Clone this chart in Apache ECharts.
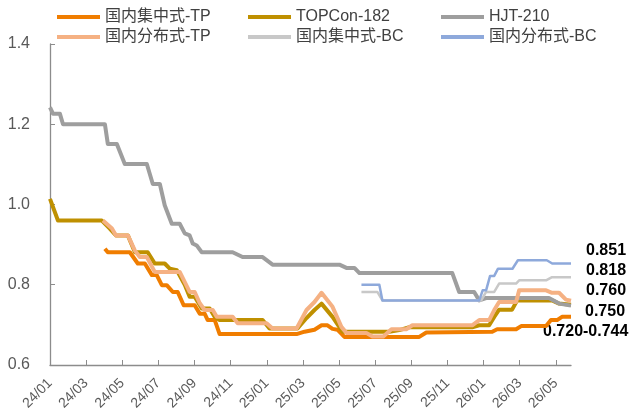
<!DOCTYPE html>
<html>
<head>
<meta charset="utf-8">
<script src="https://cdn.jsdelivr.net/npm/echarts@6/dist/echarts.min.js"></script>
<style>
html,body{margin:0;padding:0;background:#fff;}
#chart{width:633px;height:416px;}
</style>
</head>
<body>
<div id="chart"></div>
<script>
// x = months since 2024/01, y = price
var xTickLabels = ['24/01','24/03','24/05','24/07','24/09','24/11','25/01','25/03','25/05','25/07','25/09','25/11','26/01','26/03','26/05'];
var seriesNames = ['国内集中式-TP','TOPCon-182','HJT-210','国内分布式-TP','国内集中式-BC','国内分布式-BC'];

var tpCentral = [[3.04,0.890],[3.20,0.881],[4.42,0.881],[4.86,0.853],[5.25,0.853],[5.64,0.824],[5.91,0.824],[6.19,0.799],[6.46,0.799],[6.80,0.782],[7.07,0.782],[7.40,0.749],[8.01,0.749],[8.29,0.728],[8.56,0.728],[8.73,0.712],[9.12,0.712],[9.39,0.677],[13.65,0.677],[14.09,0.683],[14.64,0.688],[15.03,0.699],[15.36,0.699],[15.64,0.690],[15.91,0.688],[16.30,0.670],[20.44,0.670],[20.83,0.681],[24.48,0.683],[24.75,0.689],[25.80,0.689],[26.08,0.697],[27.46,0.697],[27.73,0.712],[28.07,0.712],[28.34,0.720],[28.84,0.720]];

var topcon = [[0,1.014],[0.44,0.960],[2.87,0.960],[3.31,0.940],[3.65,0.923],[4.31,0.923],[4.70,0.881],[5.41,0.881],[5.80,0.853],[6.35,0.853],[6.63,0.840],[7.02,0.836],[7.46,0.800],[7.73,0.770],[8.01,0.770],[8.40,0.741],[8.84,0.741],[9.12,0.720],[9.39,0.712],[11.77,0.712],[12.15,0.691],[13.70,0.691],[14.20,0.717],[14.64,0.737],[15.03,0.753],[15.64,0.720],[16.19,0.683],[18.78,0.683],[19.34,0.687],[19.89,0.694],[23.37,0.694],[23.76,0.699],[24.31,0.699],[24.59,0.720],[24.86,0.738],[25.58,0.738],[25.86,0.761],[27.79,0.761],[28.18,0.753],[28.84,0.750]];

var hjt = [[0,1.242],[0.17,1.226],[0.55,1.226],[0.72,1.200],[3.04,1.200],[3.20,1.151],[3.70,1.151],[4.14,1.101],[5.36,1.101],[5.69,1.051],[6.08,1.051],[6.35,0.998],[6.74,0.952],[7.18,0.952],[7.46,0.928],[7.73,0.923],[7.90,0.903],[8.12,0.898],[8.40,0.881],[10.11,0.881],[10.66,0.869],[11.77,0.869],[12.32,0.850],[16.02,0.850],[16.41,0.842],[16.85,0.842],[17.13,0.829],[22.27,0.829],[22.65,0.782],[23.48,0.782],[23.76,0.761],[24.14,0.767],[27.62,0.767],[28.18,0.753],[28.84,0.748]];

var tpDist = [[2.93,0.960],[3.43,0.940],[3.65,0.923],[4.31,0.923],[4.70,0.885],[4.97,0.869],[5.36,0.869],[5.80,0.832],[7.18,0.832],[7.73,0.782],[8.01,0.782],[8.29,0.754],[8.56,0.737],[9.01,0.737],[9.23,0.720],[10.11,0.720],[10.39,0.704],[11.99,0.704],[12.32,0.691],[13.65,0.691],[14.20,0.737],[14.64,0.757],[15.03,0.780],[15.64,0.745],[16.13,0.695],[16.41,0.680],[17.51,0.680],[17.85,0.671],[18.45,0.671],[18.90,0.689],[19.72,0.689],[20.06,0.699],[23.37,0.699],[23.76,0.712],[24.31,0.712],[24.59,0.737],[24.86,0.757],[25.80,0.757],[25.97,0.786],[27.46,0.786],[27.79,0.780],[28.18,0.780],[28.56,0.763],[28.84,0.760]];

var bcCentral = [[17.24,0.782],[18.12,0.782],[18.40,0.761],[23.87,0.761],[24.14,0.782],[24.59,0.782],[24.86,0.803],[25.80,0.803],[25.97,0.811],[27.46,0.811],[27.79,0.819],[28.84,0.819]];

var bcDist = [[17.24,0.800],[18.23,0.800],[18.40,0.761],[23.76,0.761],[23.95,0.786],[24.14,0.786],[24.36,0.822],[24.59,0.822],[24.80,0.840],[25.60,0.840],[25.90,0.861],[27.50,0.861],[27.80,0.853],[28.84,0.853]];

var endLabels = ['0.851','0.818','0.760','0.750','0.720-0.744'];

var FONT = '"Liberation Sans", Arial, "Noto Sans CJK SC", sans-serif';
var colors = ['#F07D00','#BF9000','#9E9E9E','#F5B183','#C8C8C8','#8EA9DB'];
var widths = [4,4,4,4,2.5,2.5];
var datas = [tpCentral, topcon, hjt, tpDist, bcCentral, bcDist];
var tickVals = xTickLabels.map(function(_, i){ return i*2; });

var chart = echarts.init(document.getElementById('chart'), null, {renderer:'canvas'});

function legendCol(left, names){
  return {
    orient:'vertical', left:left, top:9, itemWidth:43, itemHeight:4, itemGap:4,
    icon:'rect', padding:0,
    textStyle:{fontFamily:FONT, fontSize:16, color:'#404040', lineHeight:16, padding:[0,0,0,0]},
    data:names
  };
}

var labelYs = [252, 272, 292, 313, 333];
var labelXs = [586, 586, 586, 585, 543];
var graphics = endLabels.map(function(t, i){
  return {type:'text', left:labelXs[i], top:labelYs[i]-9, style:{text:t, fill:'#000', font:'bold 16px ' + FONT}};
});

chart.setOption({
  animation:false,
  backgroundColor:'#fff',
  grid:{left:50, right:62, top:44, bottom:51, containLabel:false},
  legend:[
    legendCol(57, [seriesNames[0], seriesNames[3]]),
    legendCol(248, [seriesNames[1], seriesNames[4]]),
    legendCol(441, [seriesNames[2], seriesNames[5]])
  ],
  xAxis:{
    type:'value', min:0, max:28.84, interval:2,
    axisLine:{onZero:false, lineStyle:{color:'#8C8C8C', width:1.3}},
    axisTick:{inside:true, length:5, customValues:tickVals, lineStyle:{color:'#8C8C8C'}},
    axisLabel:{customValues:tickVals, rotate:45, margin:16, fontFamily:FONT, fontSize:14, color:'#595959',
      formatter:function(v){ return xTickLabels[Math.round(v/2)] || ''; }},
    splitLine:{show:false}
  },
  yAxis:{
    type:'value', min:0.6, max:1.4, interval:0.2,
    axisLine:{show:true, lineStyle:{color:'#8C8C8C', width:1.3}},
    axisTick:{show:true, inside:true, length:5, lineStyle:{color:'#8C8C8C'}},
    axisLabel:{margin:20, fontFamily:FONT, fontSize:16, color:'#595959',
      formatter:function(v){ return v.toFixed(1); }},
    splitLine:{show:false}
  },
  graphic:graphics,
  series:seriesNames.map(function(n, i){
    return {
      name:n, type:'line', data:datas[i], showSymbol:false, symbol:'none',
      color:colors[i],
      lineStyle:{color:colors[i], width:widths[i], join:'round', cap:'butt'},
      emphasis:{disabled:true}
    };
  })
});
</script>
</body>
</html>
